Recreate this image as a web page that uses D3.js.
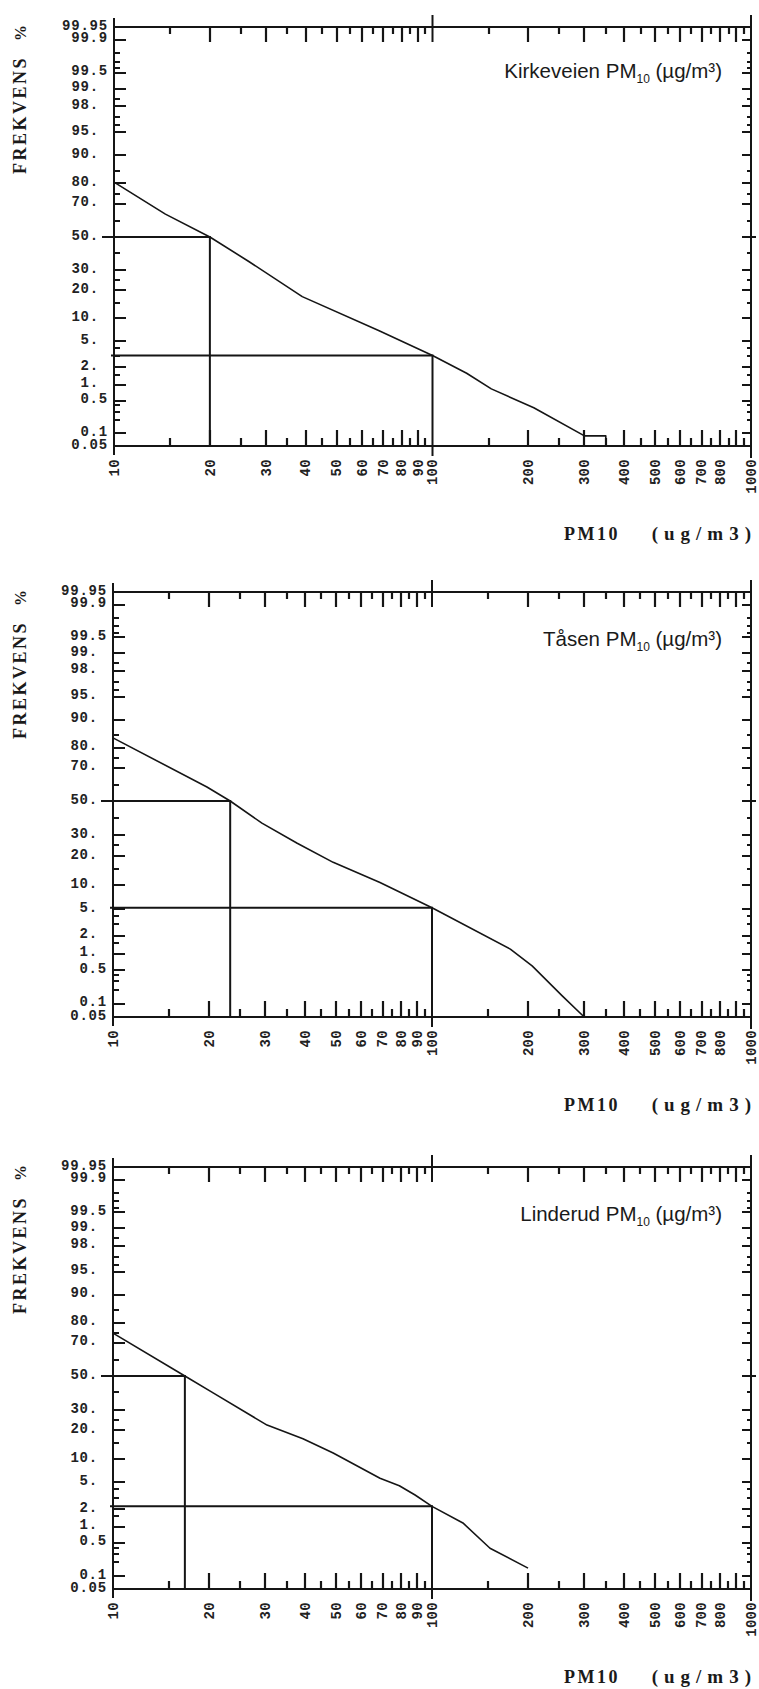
<!DOCTYPE html>
<html>
<head>
<meta charset="utf-8">
<script src="https://cdnjs.cloudflare.com/ajax/libs/d3/7.8.5/d3.min.js"></script>
<style>
  body { margin: 0; background: #fff; }
  svg { display: block; }
  .ylab { font-family: "Liberation Mono", monospace; font-size: 14px; font-weight: bold; letter-spacing: 0.8px; fill: #222; }
  .xlab { font-family: "Liberation Mono", monospace; font-size: 14px; font-weight: bold; letter-spacing: 0.3px; fill: #222; }
  .axtitle { font-family: "Liberation Serif", serif; fill: #1a1a1a; }
  .title { font-family: "Liberation Sans", Arial, sans-serif; font-size: 20.5px; fill: #1a1a1a; }
</style>
</head>
<body>
<svg id="chart"></svg>
<script>
document.addEventListener("DOMContentLoaded", function () {

    // Data ----------
    const stationNames = ["Kirkeveien", "Tåsen", "Linderud"];

    // cumulative curves: concentration (ug/m3) and frequency (%)
    const concKirkeveien = [10, 14.5, 20, 26.5, 39, 68, 100, 128, 153, 208, 300, 350, 350];
    const pctKirkeveien  = [80.5, 64, 50, 35, 17.4, 7.0, 3.1, 1.6, 0.84, 0.36, 0.087, 0.087, 0.05];

    const concTasen = [10, 19.7, 23.3, 29.3, 37.8, 49, 68.7, 100, 176, 206, 256, 300];
    const pctTasen  = [84, 58.7, 50, 36.8, 26, 17.5, 10.7, 5.2, 1.2, 0.6, 0.15, 0.05];

    const concLinderud = [10, 16.8, 20.6, 30.4, 39.4, 49, 68.7, 79, 88.5, 100, 125, 152, 200];
    const pctLinderud  = [75, 50, 39.7, 22.4, 16.6, 11.7, 5.7, 4.5, 3.3, 2.2, 1.16, 0.39, 0.15];

    // reference lines: median concentration, and frequency at 100 ug/m3
    const medianConc = [20, 23.3, 16.8];
    const refConc = 100;
    const pctAtRef = [3.1, 5.2, 2.2];

    // Axis ticks ----------
    const xLabelValues = [10, 20, 30, 40, 50, 60, 70, 80, 90, 100, 200, 300, 400, 500, 600, 700, 800, 1000];
    const xMajor = [20, 30, 40, 50, 60, 70, 80, 90, 200, 300, 400, 500, 600, 700, 800, 900];
    const xMinor = [15, 25, 35, 45, 55, 65, 75, 85, 95, 150, 250, 350, 450, 550, 650, 750, 850, 950];

    const yLabelValues = [99.95, 99.9, 99.5, 99, 98, 95, 90, 80, 70, 50, 30, 20, 10, 5, 2, 1, 0.5, 0.1, 0.05];
    const yLabelText = ["99.95", "99.9", "99.5", "99.", "98.", "95.", "90.", "80.", "70.", "50.",
                        "30.", "20.", "10.", "5.", "2.", "1.", "0.5", "0.1", "0.05"];
    const yMajor = [99.9, 99.5, 99, 98, 95, 90, 80, 70, 30, 20, 10, 5, 2, 1, 0.5, 0.1];
    const yMinor = [99.8, 99.7, 99.6, 98.5, 97, 96, 85, 75, 60, 40, 25, 15, 4, 3, 1.5, 0.4, 0.3, 0.2];

    const stations = [
        { conc: concKirkeveien, pct: pctKirkeveien },
        { conc: concTasen, pct: pctTasen },
        { conc: concLinderud, pct: pctLinderud }
    ];

    // Panel layout (pixels) ----------
    const panels = [
        { left: 114, right: 751, top: 27,   mid: 237,  bottom: 446 },
        { left: 113, right: 751, top: 592,  mid: 801,  bottom: 1017 },
        { left: 113, right: 751, top: 1167, mid: 1376, bottom: 1589 }
    ];

    // inverse normal CDF (Acklam) for the probability axis
    function probit(p) {
        const a = [-39.69683028665376, 220.9460984245205, -275.9285104469687, 138.3577518672690, -30.66479806614716, 2.506628277459239];
        const b = [-54.47609879822406, 161.5858368580409, -155.6989798598866, 66.80131188771972, -13.28068155288572];
        const c = [-0.007784894002430293, -0.3223964580411365, -2.400758277161838, -2.549671348193818, 4.374664141464968, 2.938163982698783];
        const d = [0.007784695709041462, 0.3224671290700398, 2.445134137142996, 3.754408661907416];
        const pl = 0.02425;
        let q, r;
        if (p < pl) {
            q = Math.sqrt(-2 * Math.log(p));
            return (((((c[0]*q+c[1])*q+c[2])*q+c[3])*q+c[4])*q+c[5]) / ((((d[0]*q+d[1])*q+d[2])*q+d[3])*q+1);
        }
        if (p <= 1 - pl) {
            q = p - 0.5; r = q * q;
            return (((((a[0]*r+a[1])*r+a[2])*r+a[3])*r+a[4])*r+a[5])*q / (((((b[0]*r+b[1])*r+b[2])*r+b[3])*r+b[4])*r+1);
        }
        q = Math.sqrt(-2 * Math.log(1 - p));
        return -(((((c[0]*q+c[1])*q+c[2])*q+c[3])*q+c[4])*q+c[5]) / ((((d[0]*q+d[1])*q+d[2])*q+d[3])*q+1);
    }
    const z = p => probit(p / 100);
    const zTop = z(99.95);

    const svg = d3.select("#chart")
        .attr("width", 759)
        .attr("height", 1689)
        .style("background", "#fff");

    const ink = "#151515";

    panels.forEach((pn, i) => {
        const g = svg.append("g");
        const st = stations[i];

        const x = d3.scaleLog().domain([10, 1000]).range([pn.left, pn.right]);
        const y = d3.scaleLinear().domain([-zTop, 0, zTop]).range([pn.bottom, pn.mid, pn.top]);

        const noDomain = sel => sel.call(s => s.select(".domain").remove());
        const r = v => Math.round(v);

        // inward ticks, one path ----------
        let td = "";
        [[xMajor, 15], [xMinor, 7]].forEach(([vals, len]) => {
            vals.forEach(v => {
                const px = r(x(v));
                td += `M${px},${pn.top}V${pn.top + len}`;
                td += `M${px},${pn.bottom}V${pn.bottom - len - 1}`;
            });
        });
        [[yMajor, 12, 9], [yMinor, 6, 4]].forEach(([vals, lenL, lenR]) => {
            vals.forEach(v => {
                const py = r(y(z(v)));
                td += `M${pn.left},${py}H${pn.left + lenL}`;
                td += `M${pn.right},${py}H${pn.right - lenR}`;
            });
        });
        g.append("path")
            .attr("d", td)
            .attr("fill", "none")
            .attr("stroke", ink)
            .attr("stroke-width", 2.2);

        // y tick labels
        const yl = g.append("g").attr("transform", `translate(${pn.left},0)`)
            .call(d3.axisLeft(y).tickValues(yLabelValues.map(z)).tickSize(0).tickPadding(6)
                .tickFormat((d, k) => yLabelText[k]))
            .call(noDomain)
            .attr("font-family", null).attr("font-size", null);
        yl.selectAll("text")
            .attr("class", "ylab")
            .attr("dy", "0.15em")
            .attr("dx", (d, k) => yLabelText[k].endsWith(".") ? -9 : 0);

        // x tick labels (rotated)
        const xl = g.append("g").attr("transform", `translate(0,${pn.bottom})`)
            .call(d3.axisBottom(x).tickValues(xLabelValues).tickSize(0).tickFormat(d3.format("d")))
            .call(noDomain)
            .attr("font-family", null).attr("font-size", null);
        xl.selectAll("text")
            .attr("class", "xlab")
            .attr("transform", "rotate(-90)")
            .attr("x", -13).attr("y", 0).attr("dy", "0.3em")
            .attr("text-anchor", "end");

        // frame lines
        const frame = g.append("g").attr("stroke", ink).attr("stroke-width", 2).attr("fill", "none");
        frame.append("line").attr("x1", pn.left).attr("x2", pn.right).attr("y1", y(zTop)).attr("y2", y(zTop));
        frame.append("line").attr("x1", pn.left).attr("x2", pn.right).attr("y1", y(-zTop)).attr("y2", y(-zTop));
        frame.append("line").attr("x1", x(10)).attr("x2", x(10)).attr("y1", pn.top - 9).attr("y2", pn.bottom + 9);
        frame.append("line").attr("x1", x(1000)).attr("x2", x(1000)).attr("y1", pn.top - 12).attr("y2", pn.bottom + 12);
        // crossing ticks at 100 and 50 %
        frame.append("line").attr("x1", x(100)).attr("x2", x(100)).attr("y1", pn.top - 12).attr("y2", pn.top + 15);
        frame.append("line").attr("x1", pn.left - 12).attr("x2", pn.left + 12).attr("y1", y(z(50))).attr("y2", y(z(50)));
        frame.append("line").attr("x1", pn.right - 9).attr("x2", pn.right + 5).attr("y1", y(z(50))).attr("y2", y(z(50)));

        // reference lines
        g.append("path")
            .attr("fill", "none").attr("stroke", ink).attr("stroke-width", 2)
            .attr("d", `M${pn.left},${y(z(50))}H${x(medianConc[i])}V${pn.bottom}` +
                       `M${pn.left - 3},${y(z(pctAtRef[i]))}H${x(refConc)}V${pn.bottom + 10}`);

        // cumulative curve
        const pts = st.conc.map((c, k) => [c, st.pct[k]]);
        g.append("path")
            .datum(pts)
            .attr("fill", "none").attr("stroke", ink).attr("stroke-width", 1.6)
            .attr("stroke-linejoin", "round")
            .attr("d", d3.line().x(d => x(d[0])).y(d => y(z(d[1]))));

        // titles
        const t = g.append("text").attr("class", "title")
            .attr("x", 722).attr("y", pn.top + (i === 0 ? 51 : 54))
            .attr("text-anchor", "end");
        t.append("tspan").text(stationNames[i] + " PM");
        t.append("tspan").attr("font-size", "12px").attr("dy", 5).text("10");
        t.append("tspan").attr("dy", -5).text(" (µg/m³)");

        // axis titles
        g.append("text").attr("class", "axtitle")
            .attr("transform", `translate(20,${pn.top + 88}) rotate(-90)`)
            .attr("text-anchor", "middle").attr("dy", "0.35em")
            .attr("font-size", 18).attr("font-weight", "bold").attr("letter-spacing", 2.5)
            .text("FREKVENS");
        g.append("text").attr("class", "axtitle")
            .attr("transform", `translate(20,${pn.top + 6}) rotate(-90)`)
            .attr("text-anchor", "middle").attr("dy", "0.35em")
            .attr("font-size", 16).attr("font-weight", "bold")
            .text("%");
        g.append("text").attr("class", "axtitle")
            .attr("x", 564).attr("y", pn.bottom + 94)
            .attr("font-size", 18).attr("font-weight", "bold").attr("letter-spacing", 2.5)
            .text("PM10");
        g.append("text").attr("class", "axtitle")
            .attr("x", 757).attr("y", pn.bottom + 94)
            .attr("text-anchor", "end")
            .attr("font-size", 19).attr("font-weight", "bold").attr("letter-spacing", 6)
            .text("(ug/m3)");
    });
});
</script>
</body>
</html>
